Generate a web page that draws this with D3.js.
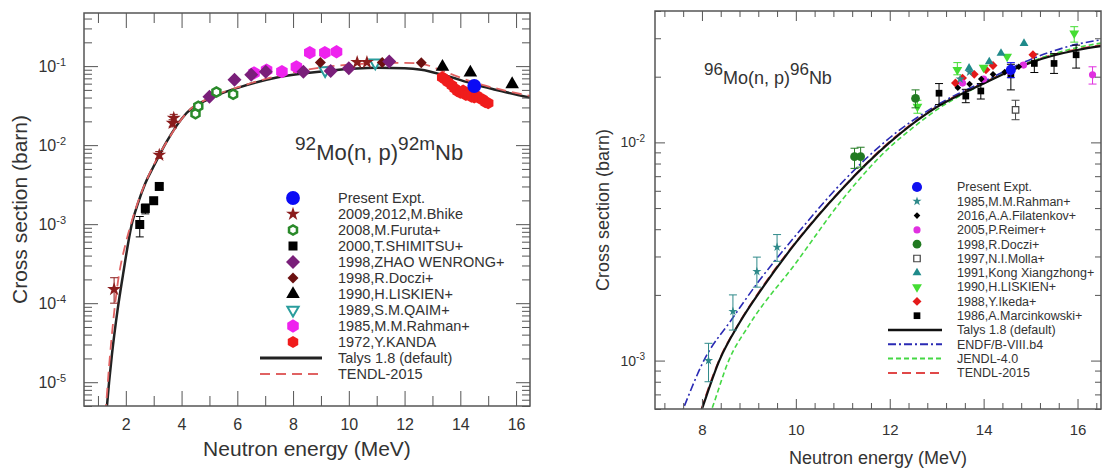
<!DOCTYPE html>
<html>
<head>
<meta charset="utf-8">
<title>Mo(n,p) cross sections</title>
<script src="https://cdn.jsdelivr.net/npm/d3@7"></script>
<style>
  body { margin: 0; background: #fff; }
  svg { display: block; }
  text { font-family: "Liberation Sans", Arial, Helvetica, sans-serif; fill: #333; }
</style>
</head>
<body>
<svg id="chart" width="1102" height="470"></svg>
<script>
// ---- 92Mo(n,p)92mNb : model curves ----
var talysE92 = [1.25, 1.3, 1.4, 1.5, 1.7, 1.9, 2.2, 2.45, 2.7, 3.0, 3.46, 4.18, 5.13, 6.1, 7.5, 9.3, 11.0, 12.0, 12.6, 13.4, 14.5, 15.5, 16.5];
var talys92 = [2.5e-6, 4.0e-6, 1.0e-5, 2.2e-5, 8.0e-5, 2.3e-4, 9.5e-4, 1.9e-3, 3.3e-3, 5.4e-3, 1.1e-2, 2.55e-2, 4.06e-2, 5.43e-2, 7.28e-2, 8.75e-2, 9.5e-2, 9.4e-2, 9.0e-2, 7.7e-2, 5.9e-2, 4.8e-2, 4.0e-2];
var tendlE92 = [1.22, 1.28, 1.4, 1.55, 1.73, 2.0, 2.2, 2.5, 3.0, 3.5, 4.2, 5.1, 6.1, 7.5, 9.0, 10.0, 11.0, 12.0, 12.6, 13.4, 14.5, 15.5, 16.5];
var tendl92 = [2.5e-6, 4.5e-6, 1.6e-5, 6.0e-5, 2.0e-4, 5.8e-4, 1.05e-3, 2.2e-3, 5.6e-3, 1.15e-2, 2.6e-2, 4.1e-2, 5.5e-2, 7.6e-2, 9.6e-2, 0.104, 0.109, 0.11, 0.107, 0.086, 0.062, 0.05, 0.042];

// ---- 92Mo(n,p)92mNb : measurements ----
var presentE92 = [14.5], presentS92 = [0.056];
var bhikeE92 = [1.58, 3.2, 3.68, 3.72, 10.3, 10.65];
var bhikeS92 = [1.5e-4, 7.5e-3, 0.019, 0.022, 0.112, 0.112];
var bhikeLo92 = [1.0e-4, 6.8e-3, 0.017, 0.0195, 0.112, 0.112];
var bhikeHi92 = [2.1e-4, 8.3e-3, 0.021, 0.0245, 0.112, 0.112];
var furutaE92 = [4.5, 4.6, 5.25, 5.85], furutaS92 = [0.025, 0.031, 0.047, 0.044];
var shimitsuE92 = [2.5, 2.7, 3.0, 3.2], shimitsuS92 = [9.9e-4, 1.58e-3, 1.98e-3, 3.0e-3];
var shimitsuLo92 = [6.9e-4, 1.35e-3, 1.8e-3, 2.8e-3], shimitsuHi92 = [1.25e-3, 1.8e-3, 2.15e-3, 3.25e-3];
var zhaoE92 = [5.0, 5.9, 6.5, 7.02, 8.37, 9.35, 10.0, 11.45];
var zhaoS92 = [0.041, 0.067, 0.078, 0.085, 0.085, 0.087, 0.094, 0.114];
var docziE92 = [8.98, 11.2, 12.6], docziS92 = [0.111, 0.111, 0.11];
var liskienE92 = [13.36, 14.36, 15.86], liskienS92 = [0.098, 0.083, 0.059];
var qaimE92 = [9.15, 10.95], qaimS92 = [0.088, 0.11];
var rahmanE92 = [6.6, 7.05, 7.6, 8.12, 8.6, 9.14, 9.56];
var rahmanS92 = [0.082, 0.089, 0.085, 0.098, 0.148, 0.148, 0.152];
var kandaE92 = [13.35, 13.45, 13.55, 13.7, 13.8, 13.9, 14.0, 14.1, 14.2, 14.3, 14.4, 14.5, 14.6, 14.7, 14.8, 14.9, 15.0];
var kandaS92 = [0.072, 0.068, 0.063, 0.057, 0.052, 0.048, 0.046, 0.049, 0.043, 0.044, 0.041, 0.040, 0.042, 0.039, 0.038, 0.035, 0.034];

var legend92 = ["Present Expt.", "2009,2012,M.Bhike", "2008,M.Furuta+", "2000,T.SHIMITSU+", "1998,ZHAO WENRONG+",
  "1998,R.Doczi+", "1990,H.LISKIEN+", "1989,S.M.QAIM+", "1985,M.M.Rahman+", "1972,Y.KANDA",
  "Talys 1.8 (default)", "TENDL-2015"];

// ---- 96Mo(n,p)96Nb : model curves ----
var talysE96 = [7.9, 8.0, 8.37, 8.8, 9.3, 10.0, 11.0, 12.0, 13.0, 14.0, 15.0, 16.0, 16.5];
var talys96 = [5.2e-4, 6.0e-4, 1.0e-3, 1.49e-3, 2.17e-3, 3.47e-3, 6.17e-3, 1.0e-2, 1.45e-2, 1.86e-2, 2.32e-2, 2.65e-2, 2.76e-2];
var tendl96 = [5.2e-4, 6.1e-4, 1.01e-3, 1.5e-3, 2.2e-3, 3.5e-3, 6.2e-3, 1.01e-2, 1.46e-2, 1.88e-2, 2.34e-2, 2.68e-2, 2.79e-2];
var endfE96 = [7.5, 7.6, 8.04, 8.64, 9.17, 9.6, 10.0, 11.0, 12.0, 13.0, 14.0, 15.0, 16.0, 16.5];
var endf96 = [5.3e-4, 6.0e-4, 1.0e-3, 1.55e-3, 2.25e-3, 2.95e-3, 3.75e-3, 6.6e-3, 1.05e-2, 1.48e-2, 1.9e-2, 2.4e-2, 2.82e-2, 2.95e-2];
var jendlE96 = [8.1, 8.21, 8.57, 9.0, 10.0, 11.0, 12.0, 12.5, 13.0, 14.0, 15.0, 16.0, 16.5];
var jendl96 = [5.2e-4, 6.0e-4, 1.0e-3, 1.45e-3, 2.8e-3, 5.5e-3, 9.5e-3, 1.17e-2, 1.41e-2, 1.86e-2, 2.34e-2, 2.72e-2, 2.85e-2];

// ---- 96Mo(n,p)96Nb : measurements ----
var presentE96 = [14.58], presentS96 = [0.0215], presentLo96 = [0.0198], presentHi96 = [0.0232];
var rahmanE96 = [8.14, 8.66, 9.17, 9.6, 13.5, 13.7];
var rahmanS96 = [1.0e-3, 1.68e-3, 2.56e-3, 3.31e-3, 0.0195, 0.021];
var rahmanLo96 = [8.0e-4, 1.38e-3, 2.17e-3, 2.85e-3, 0.0195, 0.021];
var rahmanHi96 = [1.2e-3, 2.0e-3, 2.98e-3, 3.78e-3, 0.0195, 0.021];
var filatE96 = [13.45, 13.7, 13.95, 14.2, 14.45, 14.75], filatS96 = [0.0178, 0.0185, 0.0195, 0.0205, 0.021, 0.0222];
var reimerE96 = [13.55, 14.0, 14.55, 14.85, 16.32], reimerS96 = [0.0187, 0.0195, 0.0212, 0.0226, 0.0204];
var reimerLo96 = [0.0187, 0.0195, 0.0212, 0.0226, 0.0185], reimerHi96 = [0.0187, 0.0195, 0.0212, 0.0226, 0.0222];
var docziE96 = [11.25, 11.38, 12.55], docziS96 = [8.6e-3, 8.6e-3, 0.0159];
var docziLo96 = [7.6e-3, 7.7e-3, 0.0144], docziHi96 = [9.4e-3, 9.5e-3, 0.0174];
var mollaE96 = [14.68], mollaS96 = [0.0141], mollaLo96 = [0.0127], mollaHi96 = [0.0156];
var kongE96 = [13.69, 14.12, 14.37, 14.86], kongS96 = [0.0219, 0.0234, 0.0256, 0.0284];
var liskienE96 = [12.59, 13.44, 14.0, 14.5, 15.93], liskienS96 = [0.0146, 0.0215, 0.022, 0.0247, 0.0316];
var liskienLo96 = [0.0136, 0.0204, 0.022, 0.0247, 0.0288], liskienHi96 = [0.0156, 0.0232, 0.022, 0.0247, 0.0339];
var ikedaE96 = [13.4, 13.55, 13.8, 14.05, 14.2, 15.05], ikedaS96 = [0.0187, 0.0197, 0.0205, 0.0215, 0.0225, 0.0252];
var marcinE96 = [13.05, 13.62, 13.94, 14.58, 15.08, 15.5, 15.97];
var marcinS96 = [0.0168, 0.0163, 0.0172, 0.0204, 0.023, 0.023, 0.0252];
var marcinLo96 = [0.0149, 0.0152, 0.0158, 0.0174, 0.0209, 0.0207, 0.0219];
var marcinHi96 = [0.0186, 0.0175, 0.0186, 0.0228, 0.0254, 0.0255, 0.0279];

var legend96 = ["Present Expt.", "1985,M.M.Rahman+", "2016,A.A.Filatenkov+", "2005,P.Reimer+", "1998,R.Doczi+",
  "1997,N.I.Molla+", "1991,Kong Xiangzhong+", "1990,H.LISKIEN+", "1988,Y.Ikeda+", "1986,A.Marcinkowski+",
  "Talys 1.8 (default)", "ENDF/B-VIII.b4", "JENDL-4.0", "TENDL-2015"];

var xMajor92 = d3.range(2, 17, 2), xMinor92 = d3.range(1, 17, 2);
var xMajor96 = d3.range(8, 17, 2);
var xMinor96 = d3.range(7.2, 16.5, 0.4).filter(function (v) { return Math.abs(v / 2 - Math.round(v / 2)) > 0.01; });

var svg = d3.select("#chart");

// marker shapes
var hexagon = {
  draw: function (context, size) {
    var r = Math.sqrt(size / 2.598);
    for (var i = 0; i < 6; i++) {
      var a = Math.PI / 3 * i + Math.PI / 6;
      if (i === 0) context.moveTo(r * Math.cos(a), r * Math.sin(a));
      else context.lineTo(r * Math.cos(a), r * Math.sin(a));
    }
    context.closePath();
  }
};
var rhomb = {
  draw: function (context, size) {
    var r = Math.sqrt(size / 2);
    context.moveTo(0, -r); context.lineTo(r, 0); context.lineTo(0, r); context.lineTo(-r, 0);
    context.closePath();
  }
};
var triDown = {
  draw: function (context, size) {
    var s = Math.sqrt(size / 0.433), h = s * 0.866;
    context.moveTo(-s / 2, -h / 3); context.lineTo(s / 2, -h / 3); context.lineTo(0, 2 * h / 3);
    context.closePath();
  }
};
var symbolTypes = { circle: d3.symbolCircle, square: d3.symbolSquare, star: d3.symbolStar,
  tri: d3.symbolTriangle, triDown: triDown, rhomb: rhomb, hex: hexagon };

var x92 = d3.scaleLinear().domain([0.5, 16.5]).range([84, 530]);
var y92 = d3.scaleLog().domain([5e-6, 0.47]).range([406, 13]);
var x96 = d3.scaleLinear().domain([7, 16.5]).range([655, 1101]);
var y96 = d3.scaleLog().domain([6e-4, 0.04]).range([409, 11]);

var curves92 = [
  { E: talysE92, S: talys92, color: "#222", w: 2.5 },
  { E: tendlE92, S: tendl92, color: "#e06262", w: 1.8, dash: "10,6" }
];
var series92 = [
  { E: presentE92, S: presentS92, sym: "circle", size: 150, fill: "#0b0bf5" },
  { E: bhikeE92, S: bhikeS92, lo: bhikeLo92, hi: bhikeHi92, sym: "star", size: 60, fill: "#8b1c1c" },
  { E: furutaE92, S: furutaS92, sym: "hex", size: 55, fill: "#fff", stroke: "#2a8a2a", sw: 2.5 },
  { E: shimitsuE92, S: shimitsuS92, lo: shimitsuLo92, hi: shimitsuHi92, sym: "square", size: 81, fill: "#000" },
  { E: zhaoE92, S: zhaoS92, sym: "rhomb", size: 98, fill: "#7a1f7a" },
  { E: docziE92, S: docziS92, sym: "rhomb", size: 60, fill: "#6b1010" },
  { E: liskienE92, S: liskienS92, sym: "tri", size: 80, fill: "#000" },
  { E: qaimE92, S: qaimS92, sym: "triDown", size: 55, fill: "#fff", stroke: "#2a9d9d", sw: 2 },
  { E: rahmanE92, S: rahmanS92, sym: "hex", size: 115, fill: "#ee22ee" },
  { E: kandaE92, S: kandaS92, sym: "hex", size: 95, fill: "#f01c1c" }
];

var curves96 = [
  { E: talysE96, S: tendl96, color: "#e04848", w: 1.6, dash: "9,5" },
  { E: jendlE96, S: jendl96, color: "#44d844", w: 1.6, dash: "5,3" },
  { E: endfE96, S: endf96, color: "#2a2ab4", w: 1.6, dash: "8,3,2,3" },
  { E: talysE96, S: talys96, color: "#111", w: 2.2 }
];
var series96 = [
  { E: presentE96, S: presentS96, lo: presentLo96, hi: presentHi96, sym: "circle", size: 80, fill: "#1010f0" },
  { E: rahmanE96, S: rahmanS96, lo: rahmanLo96, hi: rahmanHi96, sym: "star", size: 26, fill: "#2f8a8a" },
  { E: filatE96, S: filatS96, sym: "rhomb", size: 22, fill: "#000" },
  { E: reimerE96, S: reimerS96, lo: reimerLo96, hi: reimerHi96, sym: "circle", size: 40, fill: "#e030e0" },
  { E: docziE96, S: docziS96, lo: docziLo96, hi: docziHi96, sym: "circle", size: 60, fill: "#217a21" },
  { E: mollaE96, S: mollaS96, lo: mollaLo96, hi: mollaHi96, sym: "square", size: 42, fill: "#fff", stroke: "#444", sw: 1.2 },
  { E: kongE96, S: kongS96, sym: "tri", size: 34, fill: "#1f8a8a" },
  { E: liskienE96, S: liskienS96, lo: liskienLo96, hi: liskienHi96, sym: "triDown", size: 42, fill: "#44dd33" },
  { E: ikedaE96, S: ikedaS96, sym: "rhomb", size: 40, fill: "#e41a1a" },
  { E: marcinE96, S: marcinS96, lo: marcinLo96, hi: marcinHi96, sym: "square", size: 45, fill: "#000" }
];
var legendLines96 = [curves96[3], curves96[2], curves96[1], curves96[0]];

function isDecade(v) {
  var l = Math.log10(v);
  return Math.abs(l - Math.round(l)) < 1e-6;
}

function drawAxes(x, y, o) {
  var g = svg.append("g");
  var x0 = x.range()[0], x1 = x.range()[1], yb = y.range()[0], yt = y.range()[1];
  var yAll = y.ticks();
  var yMajor = yAll.filter(isDecade), yMinor = yAll.filter(function (v) { return !isDecade(v); });

  function axisGroup(axis, tx, ty) {
    var a = g.append("g").attr("transform", "translate(" + tx + "," + ty + ")").call(axis);
    a.select(".domain").remove();
    a.selectAll("line").attr("stroke", "#555");
    return a;
  }
  axisGroup(d3.axisBottom(x).tickValues(o.xMinor).tickSize(-o.minor).tickFormat(""), 0, yb);
  axisGroup(d3.axisTop(x).tickValues(o.xMinor).tickSize(-o.minor).tickFormat(""), 0, yt);
  axisGroup(d3.axisTop(x).tickValues(o.xMajor).tickSize(-o.major).tickFormat(""), 0, yt);
  axisGroup(d3.axisBottom(x).tickValues(o.xMajor).tickSize(-o.major).tickPadding(o.xPad).tickFormat(d3.format("d")), 0, yb)
    .attr("font-size", o.tickFont);

  axisGroup(d3.axisLeft(y).tickValues(yMinor).tickSize(-o.yMinorLen).tickFormat(""), x0, 0);
  axisGroup(d3.axisRight(y).tickValues(yMinor).tickSize(-o.yMinorLen).tickFormat(""), x1, 0);
  axisGroup(d3.axisRight(y).tickValues(yMajor).tickSize(-o.yMajorLen).tickFormat(""), x1, 0);
  var ly = axisGroup(d3.axisLeft(y).tickValues(yMajor).tickSize(-o.yMajorLen).tickPadding(o.yPad)
    .tickFormat(function () { return "10"; }), x0, 0)
    .attr("font-size", o.yFont);
  ly.selectAll(".tick text").append("tspan")
    .attr("dy", "-0.55em")
    .attr("font-size", o.supFont)
    .text(function (d) { return Math.round(Math.log10(d)); });

  g.append("rect")
    .attr("x", x0).attr("y", yt)
    .attr("width", x1 - x0).attr("height", yb - yt)
    .attr("fill", "none").attr("stroke", "#555").attr("stroke-width", 1.5);

  g.append("text")
    .attr("x", (x0 + x1) / 2).attr("y", o.xTitleY)
    .attr("text-anchor", "middle").attr("font-size", o.titleFont)
    .text("Neutron energy (MeV)");
  g.append("text")
    .attr("transform", "translate(" + o.yTitleX + "," + (yt + yb) / 2 + ") rotate(-90)")
    .attr("text-anchor", "middle").attr("dy", "0.35em").attr("font-size", o.titleFont)
    .text("Cross section (barn)");
}

function drawSeries(g, x, y, s) {
  var pts = d3.zip(s.E, s.S, s.lo || s.S, s.hi || s.S);
  var col = s.stroke || s.fill;
  var bars = pts.filter(function (d) { return d[2] !== d[3]; });
  var eb = g.append("g").attr("stroke", col).attr("stroke-width", 1);
  eb.selectAll(null).data(bars).enter().append("line")
    .attr("x1", function (d) { return x(d[0]); }).attr("x2", function (d) { return x(d[0]); })
    .attr("y1", function (d) { return y(d[2]); }).attr("y2", function (d) { return y(d[3]); });
  [2, 3].forEach(function (k) {
    eb.selectAll(null).data(bars).enter().append("line")
      .attr("x1", function (d) { return x(d[0]) - 4; }).attr("x2", function (d) { return x(d[0]) + 4; })
      .attr("y1", function (d) { return y(d[k]); }).attr("y2", function (d) { return y(d[k]); });
  });
  g.append("g").selectAll(null).data(pts).enter().append("path")
    .attr("d", d3.symbol().type(symbolTypes[s.sym]).size(s.size))
    .attr("transform", function (d) { return "translate(" + x(d[0]) + "," + y(d[1]) + ")"; })
    .attr("fill", s.fill)
    .attr("stroke", s.stroke || "none")
    .attr("stroke-width", s.sw || 0);
}

function drawData(x, y, curves, series, clipId) {
  var x0 = x.range()[0], x1 = x.range()[1], yb = y.range()[0], yt = y.range()[1];
  svg.append("clipPath").attr("id", clipId).append("rect")
    .attr("x", x0).attr("y", yt).attr("width", x1 - x0).attr("height", yb - yt);
  var g = svg.append("g").attr("clip-path", "url(#" + clipId + ")");
  var line = d3.line()
    .x(function (d) { return x(d[0]); })
    .y(function (d) { return y(d[1]); })
    .curve(d3.curveMonotoneX);
  curves.forEach(function (c) {
    g.append("path").datum(d3.zip(c.E, c.S))
      .attr("d", line)
      .attr("fill", "none")
      .attr("stroke", c.color)
      .attr("stroke-width", c.w)
      .attr("stroke-dasharray", c.dash || null);
  });
  series.slice().reverse().forEach(function (s) { drawSeries(g, x, y, s); });
}

function drawLegend(labels, series, lines, o) {
  var g = svg.append("g");
  g.selectAll("text").data(labels).enter().append("text")
    .attr("x", o.textX)
    .attr("y", function (d, i) { return o.y0 + i * o.dy; })
    .attr("dy", "0.35em")
    .attr("font-size", o.font)
    .text(function (d) { return d; });
  g.selectAll(".sym").data(series).enter().append("path")
    .attr("class", "sym")
    .attr("d", function (s) { return d3.symbol().type(symbolTypes[s.sym]).size(s.size)(); })
    .attr("transform", function (s, i) { return "translate(" + o.symX + "," + (o.y0 + i * o.dy) + ")"; })
    .attr("fill", function (s) { return s.fill; })
    .attr("stroke", function (s) { return s.stroke || "none"; })
    .attr("stroke-width", function (s) { return s.sw || 0; });
  g.selectAll(".ln").data(lines).enter().append("line")
    .attr("class", "ln")
    .attr("x1", o.lineX0).attr("x2", o.lineX1)
    .attr("y1", function (c, i) { return o.y0 + (series.length + i) * o.dy; })
    .attr("y2", function (c, i) { return o.y0 + (series.length + i) * o.dy; })
    .attr("stroke", function (c) { return c.color; })
    .attr("stroke-width", function (c) { return c.w + 0.4; })
    .attr("stroke-dasharray", function (c) { return c.dash || null; });
}

// left panel
drawData(x92, y92, curves92, series92, "clip92");
drawAxes(x92, y92, { xMajor: xMajor92, xMinor: xMinor92, major: 15, minor: 10, yMajorLen: 14, yMinorLen: 8,
  xPad: 13, yPad: 18, tickFont: 16, yFont: 16, supFont: 11, titleFont: 21, xTitleY: 456, yTitleX: 20 });
drawLegend(legend92, series92, curves92, { symX: 293, textX: 338, lineX0: 260, lineX1: 322, y0: 198, dy: 16, font: 14.5 });

// right panel
drawData(x96, y96, curves96, series96, "clip96");
drawAxes(x96, y96, { xMajor: xMajor96, xMinor: xMinor96, major: 10, minor: 6, yMajorLen: 10, yMinorLen: 6,
  xPad: 15, yPad: 10, tickFont: 15, yFont: 14, supFont: 10, titleFont: 18, xTitleY: 464, yTitleX: 603 });
drawLegend(legend96, series96, legendLines96, { symX: 917, textX: 957, lineX0: 888, lineX1: 942, y0: 187, dy: 14.3, font: 12.5 });

// reaction labels
var lab92 = svg.append("text").attr("x", 295).attr("y", 160).attr("font-size", 22);
lab92.append("tspan").attr("font-size", 19).attr("dy", -10).text("92");
lab92.append("tspan").attr("dy", 10).text("Mo(n, p)");
lab92.append("tspan").attr("font-size", 19).attr("dy", -10).text("92m");
lab92.append("tspan").attr("dy", 10).text("Nb");

var lab96 = svg.append("text").attr("x", 704).attr("y", 84).attr("font-size", 18);
lab96.append("tspan").attr("font-size", 17).attr("dy", -9).text("96");
lab96.append("tspan").attr("dy", 9).text("Mo(n, p)");
lab96.append("tspan").attr("font-size", 17).attr("dy", -9).text("96");
lab96.append("tspan").attr("dy", 9).text("Nb");
</script>
</body>
</html>
